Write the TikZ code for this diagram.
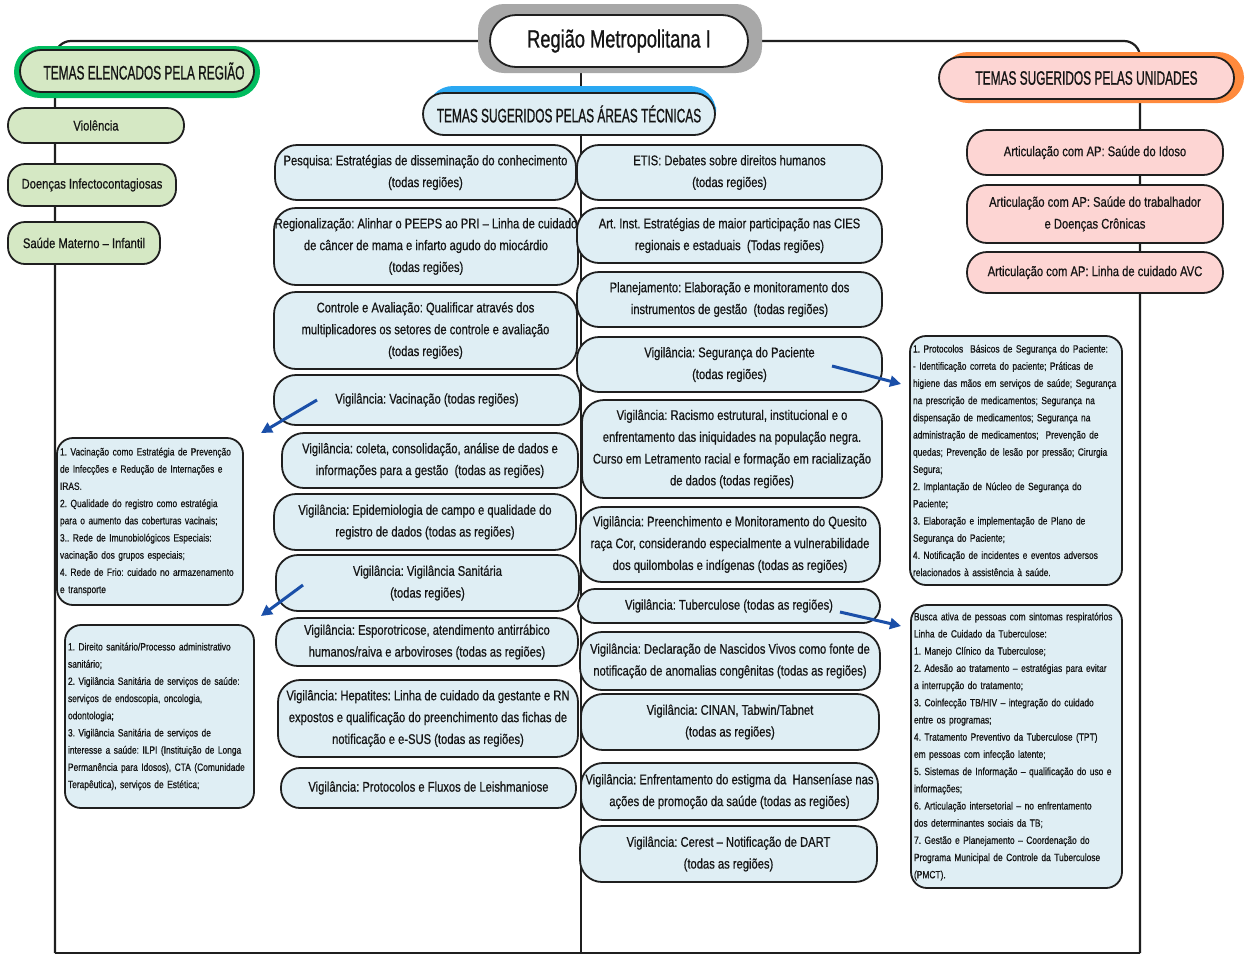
\documentclass[tikz,border=0pt]{standalone}
\usepackage{fontspec}
\setmainfont{Liberation Sans}[FakeStretch=0.8,FakeBold=0.6]
\newfontfamily\condfont{Liberation Sans}[FakeStretch=0.61,FakeBold=0.8]
\newfontfamily\rootfont{Liberation Sans}[FakeStretch=0.73,FakeBold=0.8]
\usetikzlibrary{arrows.meta,backgrounds}
\definecolor{gfill}{HTML}{D5E8C4}
\definecolor{gglow}{HTML}{00BC5E}
\definecolor{bfill}{HTML}{DFEEF4}
\definecolor{bglow}{HTML}{2AA8F2}
\definecolor{pfill}{HTML}{FDD5D3}
\definecolor{oglow}{HTML}{FF8A3D}
\definecolor{rglow}{HTML}{A8A8A8}
\definecolor{arrowblue}{HTML}{1A4FA8}
\newcommand\fmain{\frenchspacing\fontsize{14}{21.8}\selectfont}
\newcommand\fsmall{\frenchspacing\fontsize{10.5}{17.2}\selectfont}
\newcommand\fhead{\condfont\fontsize{19.5}{22}\selectfont}
\newcommand\froot{\rootfont\fontsize{25}{28}\selectfont}
\tikzset{
  box/.style={draw=black!88, line width=1.8pt, align=center, inner sep=0pt, text=black!92, font=\fmain},
  bnode/.style={box, fill=bfill, rounded corners=22pt},
  gnode/.style={box, fill=gfill, rounded corners=17pt},
  pnode/.style={box, fill=pfill, rounded corners=20pt},
  hnode/.style={box, rounded corners=21pt, font=\fhead},
  dnode/.style={box, fill=bfill, rounded corners=16pt, align=left, font=\fsmall, inner sep=3pt},
  glow/.style={rounded corners=26pt},
  spine/.style={draw=black!88, line width=2.2pt},
  arr/.style={draw=arrowblue, line width=3pt, -{Triangle[length=11pt,width=11pt]}}
}
\begin{document}
\begin{tikzpicture}[x=1pt,y=-1pt]
\useasboundingbox (0,0) rectangle (1249,967);
% glows
\fill[rglow, glow] (478,4) rectangle (762,73);
\fill[gglow, glow] (14,46) rectangle (260,98);
\fill[bglow, glow] (427,86) rectangle (716,133);
\fill[oglow, glow] (942,52) rectangle (1244,103);
% root and headers
\node[box, fill=white, rounded corners=26pt, font=\froot, minimum width=258, minimum height=52] (root) at (619,41) {Região Metropolitana I};
\node[hnode, fill=gfill, minimum width=234, minimum height=42] (hg) at (137,71) {\hspace{14pt}TEMAS ELENCADOS PELA REGIÃO};
\node[hnode, fill=bfill, minimum width=292, minimum height=42] (hb) at (569,114) {TEMAS SUGERIDOS PELAS ÁREAS TÉCNICAS};
\node[hnode, fill=pfill, minimum width=295, minimum height=42] (ho) at (1086.5,78) {TEMAS SUGERIDOS PELAS UNIDADES};
% green
\node[gnode, minimum width=176, minimum height=35] (g1) at (96,125.5) {Violência};
\node[gnode, minimum width=168, minimum height=42] (g2) at (92,185) {Doenças Infectocontagiosas};
\node[gnode, minimum width=152, minimum height=42] (g3) at (84,243) {Saúde Materno – Infantil};
% pink
\node[pnode, minimum width=256, minimum height=45] (k1) at (1095,152.5) {Articulação com AP: Saúde do Idoso};
\node[pnode, minimum width=256, minimum height=58] (k2) at (1095,214) {Articulação com AP: Saúde do trabalhador\\e Doenças Crônicas};
\node[pnode, minimum width=256, minimum height=41] (k3) at (1095,272.5) {Articulação com AP: Linha de cuidado AVC};
% middle left
\node[bnode, minimum width=301, minimum height=55] (p1) at (425.5,172.5) {Pesquisa: Estratégias de disseminação do conhecimento\\(todas regiões)};
\node[bnode, minimum width=304, minimum height=77] (p2) at (426,246.5) {Regionalização: Alinhar o PEEPS ao PRI – Linha de cuidado\\de câncer de mama e infarto agudo do miocárdio\\(todas regiões)};
\node[bnode, minimum width=303, minimum height=77] (p3) at (425.5,330.5) {Controle e Avaliação: Qualificar através dos\\multiplicadores os setores de controle e avaliação\\(todas regiões)};
\node[bnode, minimum width=306, minimum height=50] (p4) at (427,400) {Vigilância: Vacinação (todas regiões)};
\node[bnode, minimum width=296, minimum height=55] (p5) at (430,460.5) {Vigilância: coleta, consolidação, análise de dados e\\informações para a gestão\ \ (todas as regiões)};
\node[bnode, minimum width=302, minimum height=56] (p6) at (425,522) {Vigilância: Epidemiologia de campo e qualidade do\\registro de dados (todas as regiões)};
\node[bnode, minimum width=303, minimum height=56] (p7) at (427.5,583) {Vigilância: Vigilância Sanitária\\(todas regiões)};
\node[bnode, minimum width=302, minimum height=48] (p8) at (427,642) {Vigilância: Esporotricose, atendimento antirrábico\\humanos/raiva e arboviroses (todas as regiões)};
\node[bnode, minimum width=300, minimum height=77] (p9) at (428,718.5) {Vigilância: Hepatites: Linha de cuidado da gestante e RN\\expostos e qualificação do preenchimento das fichas de\\notificação e e-SUS (todas as regiões)};
\node[bnode, rounded corners=19pt, minimum width=295, minimum height=40] (p10) at (428.5,788) {Vigilância: Protocolos e Fluxos de Leishmaniose};
% middle right
\node[bnode, minimum width=305, minimum height=55] (q1) at (729.5,172.5) {ETIS: Debates sobre direitos humanos\\(todas regiões)};
\node[bnode, minimum width=305, minimum height=55] (q2) at (729.5,235.5) {Art. Inst. Estratégias de maior participação nas CIES\\regionais e estaduais\ \ (Todas regiões)};
\node[bnode, minimum width=305, minimum height=55] (q3) at (729.5,299.5) {Planejamento: Elaboração e monitoramento dos\\instrumentos de gestão\ \ (todas regiões)};
\node[bnode, minimum width=305, minimum height=55] (q4) at (729.5,364.5) {Vigilância: Segurança do Paciente\\(todas regiões)};
\node[bnode, minimum width=300, minimum height=98] (q5) at (732,449) {Vigilância: Racismo estrutural, institucional e o\\enfrentamento das iniquidades na população negra.\\Curso em Letramento racial e formação em racialização\\de dados (todas regiões)};
\node[bnode, minimum width=300, minimum height=75] (q6) at (730,544.5) {Vigilância: Preenchimento e Monitoramento do Quesito\\raça Cor, considerando especialmente a vulnerabilidade\\dos quilombolas e indígenas (todas as regiões)};
\node[bnode, rounded corners=17pt, minimum width=302, minimum height=34] (q7) at (729,606) {Vigilância: Tuberculose (todas as regiões)};
\node[bnode, minimum width=300, minimum height=58] (q8) at (730,661) {Vigilância: Declaração de Nascidos Vivos como fonte de\\notificação de anomalias congênitas (todas as regiões)};
\node[bnode, minimum width=298, minimum height=56] (q9) at (730,722) {Vigilância: CINAN, Tabwin/Tabnet\\(todas as regiões)};
\node[bnode, minimum width=297, minimum height=57] (q10) at (729.5,791.5) {Vigilância: Enfrentamento do estigma da\ \ Hanseníase nas\\ações de promoção da saúde (todas as regiões)};
\node[bnode, minimum width=297, minimum height=56] (q11) at (728.5,854) {Vigilância: Cerest – Notificação de DART\\(todas as regiões)};
% details
\node[dnode, text width=180, minimum height=167] (d1) at (150,521.5) {1. Vacinação como Estratégia de Prevenção\\de Infecções e Redução de Internações e\\IRAS.\\2. Qualidade do registro como estratégia\\para o aumento das coberturas vacinais;\\3.. Rede de Imunobiológicos Especiais:\\vacinação dos grupos especiais;\\4. Rede de Frio: cuidado no armazenamento\\e transporte};
\node[dnode, text width=183, minimum height=183] (d2) at (159.5,716.5) {1. Direito sanitário/Processo administrativo\\sanitário;\\2. Vigilância Sanitária de serviços de saúde:\\serviços de endoscopia, oncologia,\\odontologia;\\3. Vigilância Sanitária de serviços de\\interesse a saúde: ILPI (Instituição de Longa\\Permanência para Idosos), CTA (Comunidade\\Terapêutica), serviços de Estética;};
\node[dnode, text width=206, minimum height=249] (d3) at (1016,460.5) {1. Protocolos\ \ Básicos de Segurança do Paciente:\\- Identificação correta do paciente; Práticas de\\higiene das mãos em serviços de saúde; Segurança\\na prescrição de medicamentos; Segurança na\\dispensação de medicamentos; Segurança na\\administração de medicamentos;\ \ Prevenção de\\quedas; Prevenção de lesão por pressão; Cirurgia\\Segura;\\2. Implantação de Núcleo de Segurança do\\Paciente;\\3. Elaboração e implementação de Plano de\\Segurança do Paciente;\\4. Notificação de incidentes e eventos adversos\\relacionados à assistência à saúde.};
\node[dnode, text width=205, minimum height=283] (d4) at (1016.5,746.5) {Busca ativa de pessoas com sintomas respiratórios\\Linha de Cuidado da Tuberculose:\\1. Manejo Clínico da Tuberculose;\\2. Adesão ao tratamento – estratégias para evitar\\a interrupção do tratamento;\\3. Coinfecção TB/HIV – integração do cuidado\\entre os programas;\\4. Tratamento Preventivo da Tuberculose (TPT)\\em pessoas com infecção latente;\\5. Sistemas de Informação – qualificação do uso e\\informações;\\6. Articulação intersetorial – no enfrentamento\\dos determinantes sociais da TB;\\7. Gestão e Planejamento – Coordenação do\\Programa Municipal de Controle da Tuberculose\\(PMCT).};
% arrows
\coordinate (a1s) at (317,400); \coordinate (a1e) at (261,433);
\coordinate (a2s) at (303,585); \coordinate (a2e) at (261,616);
\coordinate (a3s) at (832,366); \coordinate (a3e) at (901,384);
\coordinate (a4s) at (840,612); \coordinate (a4e) at (901,626);
\draw[arr] (a1s) -- (a1e);
\draw[arr] (a2s) -- (a2e);
\draw[arr] (a3s) -- (a3e);
\draw[arr] (a4s) -- (a4e);
% spines
\coordinate (tl) at (55,41); \coordinate (tr) at (1140,41);
\coordinate (bl) at (55,953); \coordinate (br) at (1140,953);
\coordinate (bm) at (581,953);
\begin{pgfonlayer}{background}
\draw[spine, rounded corners=16pt] (bl) -- (tl) -- (tr) -- (br);
\draw[spine] (bl) -- (br);
\draw[spine] (bm |- root.south) -- (bm);
\end{pgfonlayer}
\end{tikzpicture}
\end{document}
